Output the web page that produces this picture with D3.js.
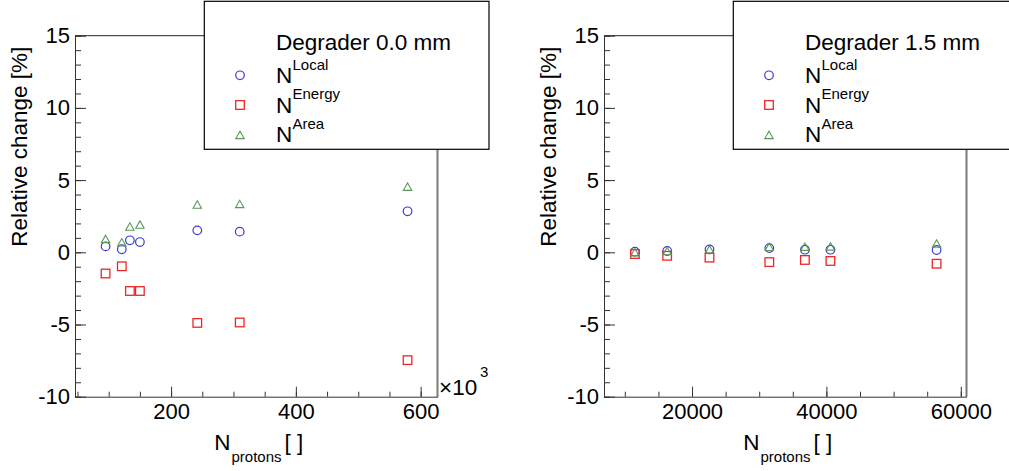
<!DOCTYPE html>
<html>
<head>
<meta charset="utf-8">
<script src="https://cdn.jsdelivr.net/npm/d3@7"></script>
<style>
  html, body { margin: 0; padding: 0; background: #fff; }
  svg { display: block; font-family: "Liberation Sans", Arial, sans-serif; }
</style>
</head>
<body>
<svg id="chart" width="1009" height="471"></svg>
<script>
// ---- data ----
const leftX = [95, 121, 134, 150, 242, 310, 579];            // N_protons (x10^3)
const leftLocal = [0.41, 0.21, 0.83, 0.71, 1.52, 1.43, 2.84];
const leftEnergy = [-1.47, -0.97, -2.68, -2.68, -4.89, -4.86, -7.47];
const leftArea = [0.92, 0.69, 1.78, 1.91, 3.30, 3.34, 4.54];

const rightX = [11500, 16300, 22600, 31500, 36800, 40600, 56400];
const rightLocal = [0.04, 0.09, 0.20, 0.29, 0.18, 0.18, 0.16];
const rightEnergy = [-0.12, -0.24, -0.37, -0.68, -0.53, -0.60, -0.79];
const rightArea = [0.00, 0.08, 0.20, 0.37, 0.38, 0.40, 0.60];

const yTicks = [-10, -5, 0, 5, 10, 15];
const leftXTicks = [200, 400, 600];
const rightXTicks = [20000, 40000, 60000];
const seriesNames = ["Local", "Energy", "Area"];
const titles = ["Degrader 0.0 mm", "Degrader 1.5 mm"];

const colors = { Local: "#3c3cd2", Energy: "#f02424", Area: "#5a985a" };

const svg = d3.select("#chart");
svg.append("rect").attr("width", 1009).attr("height", 471).attr("fill", "#fff");

function marker(g, type, x, y) {
  const c = colors[type];
  if (type === "Local") {
    g.append("circle").attr("cx", x).attr("cy", y).attr("r", 4.3)
      .attr("fill", "none").attr("stroke", c).attr("stroke-width", 1.2);
  } else if (type === "Energy") {
    g.append("rect").attr("x", x - 4.3).attr("y", y - 4.3).attr("width", 8.6).attr("height", 8.6)
      .attr("fill", "none").attr("stroke", c).attr("stroke-width", 1.3);
  } else {
    g.append("path").attr("d", `M${x - 4.2},${y + 3.6}L${x + 4.2},${y + 3.6}L${x},${y - 3.8}Z`)
      .attr("fill", "none").attr("stroke", c).attr("stroke-width", 1.1);
  }
}

function panel(off, xDomain, xs, series, majorX, minorX, title, showExp) {
  const g = svg.append("g").attr("transform", `translate(${off},0)`);
  const L = 75, R = 437.5, T = 35.7, B = 396.7;
  const x = d3.scaleLinear().domain(xDomain).range([L, R]);
  const y = d3.scaleLinear().domain([-10, 15]).range([B, T]);

  // frame top & right
  g.append("line").attr("x1", L).attr("x2", R).attr("y1", T).attr("y2", T)
    .attr("stroke", "#222").attr("stroke-width", 1);
  g.append("line").attr("x1", R).attr("x2", R).attr("y1", T).attr("y2", B)
    .attr("stroke", "#7a7a7a").attr("stroke-width", 2);

  // y axis: minor
  g.append("g").attr("transform", `translate(${L},0)`)
    .call(d3.axisLeft(y).tickValues(d3.range(-10, 16, 1)).tickSize(-6).tickFormat(""))
    .call(a => a.select(".domain").remove())
    .call(a => a.selectAll("line").attr("stroke", "#333"));
  // y axis: major
  g.append("g").attr("transform", `translate(${L},0)`)
    .call(d3.axisLeft(y).tickValues(yTicks).tickSizeInner(-11).tickSizeOuter(0).tickPadding(5)
      .tickFormat(d => String(d)))
    .call(a => a.select(".domain").attr("stroke", "#333"))
    .call(a => a.selectAll("line").attr("stroke", "#333"))
    .call(a => a.selectAll("text").attr("font-size", 22).attr("fill", "#000")
      .attr("font-family", "Liberation Sans, Arial, sans-serif"));

  // x axis: minor
  g.append("g").attr("transform", `translate(0,${B})`)
    .call(d3.axisBottom(x).tickValues(minorX).tickSize(-5).tickFormat(""))
    .call(a => a.select(".domain").remove())
    .call(a => a.selectAll("line").attr("stroke", "#333"));
  // x axis: major
  g.append("g").attr("transform", `translate(0,${B})`)
    .call(d3.axisBottom(x).tickValues(majorX).tickSizeInner(-10).tickSizeOuter(0).tickPadding(7)
      .tickFormat(d => String(d)))
    .call(a => a.select(".domain").attr("stroke", "#333"))
    .call(a => a.selectAll("line").attr("stroke", "#333"))
    .call(a => a.selectAll("text").attr("font-size", 22).attr("fill", "#000")
      .attr("font-family", "Liberation Sans, Arial, sans-serif").attr("dy", "0.71em"));

  // data markers
  const pts = g.append("g");
  seriesNames.forEach(name => {
    series[name].forEach((v, i) => marker(pts, name, x(xs[i]), y(v)));
  });

  // axis titles
  g.append("text").attr("transform", `translate(27,46.7) rotate(-90)`)
    .attr("text-anchor", "end").attr("font-size", 22.5).text("Relative change [%]");
  g.append("text").attr("x", 214.3).attr("y", 450).attr("font-size", 22.5).text("N");
  g.append("text").attr("x", 231.5).attr("y", 461.7).attr("font-size", 15).text("protons");
  g.append("text").attr("x", 284.5).attr("y", 450).attr("font-size", 22.5).text("[ ]");

  if (showExp) {
    g.append("text").attr("x", 439).attr("y", 395).attr("font-size", 22.5).text("\u00d710");
    g.append("text").attr("x", 480).attr("y", 377).attr("font-size", 15).text("3");
  }

  // legend
  const lg = g.append("g");
  lg.append("rect").attr("x", 204.3).attr("y", 1.3).attr("width", 284.7).attr("height", 148)
    .attr("fill", "#fff").attr("stroke", "#000").attr("stroke-width", 1.2);
  lg.append("text").attr("x", 276).attr("y", 50).attr("font-size", 22.5).text(title);
  const rowsM = [75.3, 105, 135];
  const rowsT = [83.3, 112.7, 142.3];
  seriesNames.forEach((name, i) => {
    marker(lg, name, 240, rowsM[i]);
    lg.append("text").attr("x", 276).attr("y", rowsT[i]).attr("font-size", 22.5).text("N");
    lg.append("text").attr("x", 292.5).attr("y", rowsT[i] - 13.3).attr("font-size", 15).text(name);
  });
}

panel(0, [46, 627], leftX, { Local: leftLocal, Energy: leftEnergy, Area: leftArea },
  leftXTicks, d3.range(50, 601, 50), titles[0], true);
panel(529, [6900, 60850], rightX, { Local: rightLocal, Energy: rightEnergy, Area: rightArea },
  rightXTicks, d3.range(10000, 60001, 5000), titles[1], false);
</script>
</body>
</html>
